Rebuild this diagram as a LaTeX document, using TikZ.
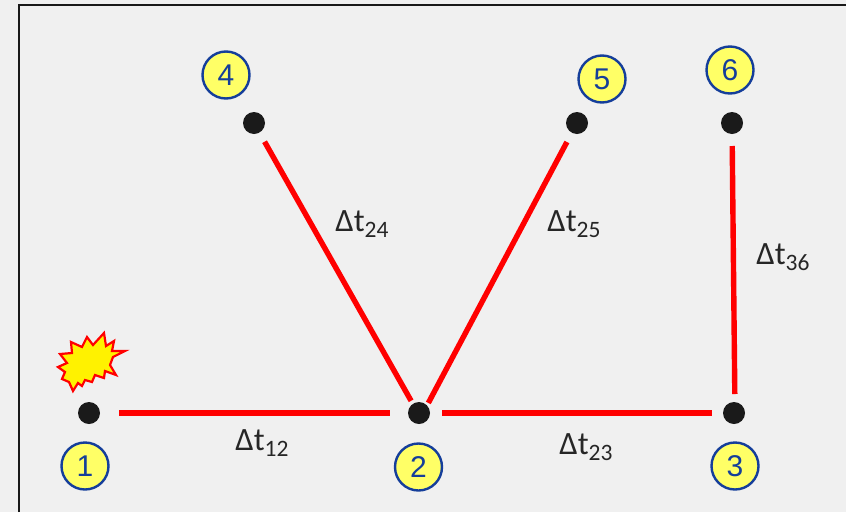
\documentclass[tikz,border=0pt]{standalone}
\usepackage{fontspec}
\setmainfont{Liberation Sans}
\definecolor{bgc}{HTML}{F0F0F0}
\definecolor{ringc}{HTML}{153E9A}
\definecolor{dotc}{HTML}{1A1A1A}
\definecolor{numfill}{HTML}{FFFF66}
\tikzset{
  dotnode/.style={circle,fill=dotc,draw=none,minimum size=22pt,inner sep=0pt},
  numnode/.style={circle,fill=numfill,draw=ringc,line width=2.4pt,minimum size=47pt,inner sep=0pt,text=ringc,font=\fontsize{30}{30}\selectfont},
  link/.style={draw=red,line width=5.4pt},
  lbl/.style={inner sep=0pt,text=black!85,font=\fontsize{32.5}{32.5}\selectfont},
}
\newcommand{\dt}[1]{{\fontspec{Carlito}\char"0394 t\raisebox{-5.5pt}{\fontsize{23.5}{23.5}\selectfont #1}}}
\begin{document}
\begin{tikzpicture}[x=1pt,y=-1pt]
\useasboundingbox (0,0) rectangle (846,512);
\fill[bgc] (0,0) rectangle (846,512);
\draw[black!90,line width=1.6pt] (19,512) -- (19,5) -- (846,5);
\node[dotnode] (d1) at (89,413) {};
\node[dotnode] (d2) at (419,413) {};
\node[dotnode] (d3) at (734,413) {};
\node[dotnode] (d4) at (254,123) {};
\node[dotnode] (d5) at (577,123) {};
\node[dotnode] (d6) at (732,123) {};
\node[numnode] (n1) at (85,466) {1};
\node[numnode] (n2) at (418.5,467) {2};
\node[numnode] (n3) at (735,466) {3};
\node[numnode] (n4) at (226,75) {4};
\node[numnode] (n5) at (602,79) {5};
\node[numnode] (n6) at (730,70) {6};
\draw[link,shorten <=30pt,shorten >=29pt] (d1.center) -- (d2.center);
\draw[link,shorten <=23pt,shorten >=22pt] (d2.center) -- (d3.center);
\draw[link,shorten <=14pt,shorten >=21.5pt] ([xshift=-1pt]d2.center) -- (d4.center);
\draw[link,shorten <=11.4pt,shorten >=21.5pt] ([xshift=4pt]d2.center) -- (d5.center);
\draw[link,shorten <=19pt,shorten >=23pt] ([xshift=1pt]d3.center) -- (d6.center);
\node[lbl] (t12) at (262,443) {\dt{12}};
\node[lbl] (t23) at (586,447) {\dt{23}};
\node[lbl] (t24) at (362,224) {\dt{24}};
\node[lbl] (t25) at (574,224) {\dt{25}};
\node[lbl] (t36) at (783,257) {\dt{36}};
\draw[red,line width=2.2pt,fill=yellow,line join=miter,miter limit=10]
 (104,333) -- (106,346) -- (114,341) -- (112,351) -- (125,351) -- (113,357) -- (110,365) -- (116,375) -- (105,371) -- (104,378) -- (95,375) -- (92,382) -- (85,380) -- (82,386) -- (78,383) -- (73,391) -- (69,382) -- (62,379) -- (65,372) -- (58,367) -- (67,363) -- (60,354) -- (72,353) -- (71,342) -- (82,347) -- (87,337) -- (93,345) -- cycle;
\end{tikzpicture}
\end{document}
